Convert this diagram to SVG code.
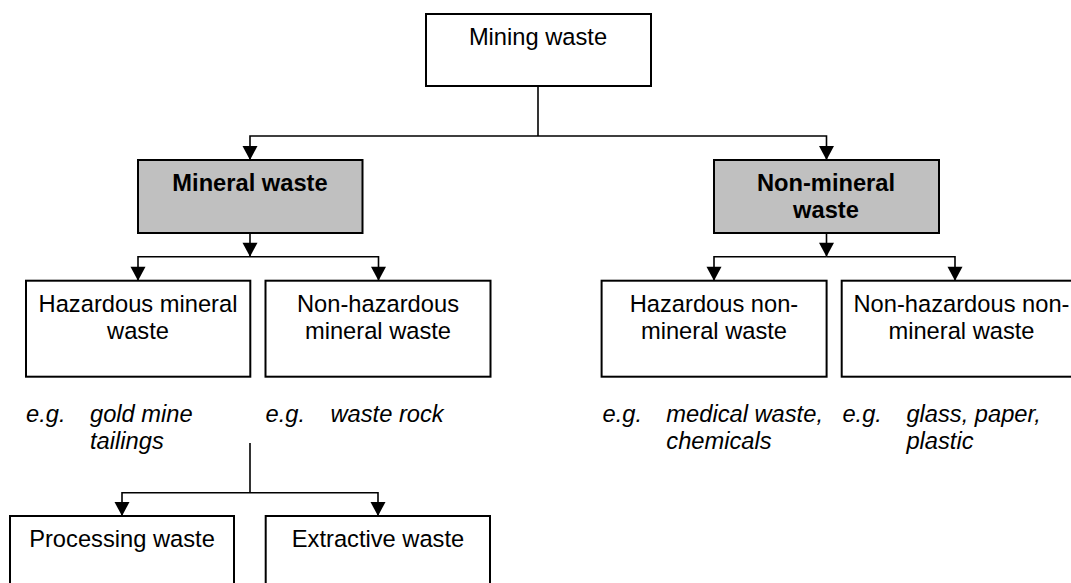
<svg xmlns="http://www.w3.org/2000/svg" width="1071" height="583" viewBox="0 0 1071 583">
<defs>
<marker id="arr" markerUnits="userSpaceOnUse" markerWidth="16" markerHeight="16" viewBox="0 0 16 16" refX="15" refY="8" orient="auto">
<path d="M1,0.5 L15,8 L1,15.5 Z" fill="#000"/>
</marker>
<style>
.box{fill:#fff;stroke:#000;stroke-width:2}
.grey{fill:#c0c0c0;stroke:#000;stroke-width:2}
.t{font-family:"Liberation Sans",Arial,sans-serif;font-size:23.7px;fill:#000;text-anchor:middle}
.b{font-weight:bold}
.eg{font-family:"Liberation Sans",Arial,sans-serif;font-size:23.7px;font-style:italic;fill:#000}
.c{fill:none;stroke:#000;stroke-width:1.6}
.a{fill:none;stroke:#000;stroke-width:1.6;marker-end:url(#arr)}
</style>
</defs>
<rect width="1071" height="583" fill="#fff"/>
<g id="connectors">
<path class="c" d="M538,86 V136"/>
<path class="a" d="M538,136 H250 V160"/>
<path class="a" d="M538,136 H826.5 V160"/>
<path class="a" d="M250,233 V256.7"/>
<path class="a" d="M250,256.7 H138 V280.7"/>
<path class="a" d="M250,256.7 H378.5 V280.7"/>
<path class="a" d="M826.5,233 V256.7"/>
<path class="a" d="M826.5,256.7 H714 V280.7"/>
<path class="a" d="M826.5,256.7 H955 V280.7"/>
<path class="c" d="M250,443 V492.7"/>
<path class="a" d="M250,492.7 H122 V516"/>
<path class="a" d="M250,492.7 H378 V516"/>
</g>
<g id="mining-waste">
<rect class="box" x="426" y="14" width="225" height="72"/>
<text class="t" x="538" y="45">Mining waste</text>
</g>
<g id="mineral-waste">
<rect class="grey" x="138" y="160" width="224.5" height="73"/>
<text class="t b" x="250" y="190.7">Mineral waste</text>
</g>
<g id="non-mineral-waste">
<rect class="grey" x="714" y="160" width="225" height="73"/>
<text class="t b" x="826" y="190.7">Non-mineral</text>
<text class="t b" x="826" y="218.3">waste</text>
</g>
<g id="hazardous-mineral-waste">
<rect class="box" x="26" y="280.7" width="224.3" height="96"/>
<text class="t" x="138" y="311.7">Hazardous mineral</text>
<text class="t" x="138" y="338.5">waste</text>
</g>
<g id="non-hazardous-mineral-waste">
<rect class="box" x="265.5" y="280.7" width="225" height="96"/>
<text class="t" x="378" y="311.7">Non-hazardous</text>
<text class="t" x="378" y="338.5">mineral waste</text>
</g>
<g id="hazardous-non-mineral-waste">
<rect class="box" x="601.6" y="280.7" width="225" height="96"/>
<text class="t" x="714" y="311.7">Hazardous non-</text>
<text class="t" x="714" y="338.5">mineral waste</text>
</g>
<g id="non-hazardous-non-mineral-waste">
<rect class="box" x="841.7" y="280.7" width="240" height="96"/>
<text class="t" x="961.5" y="311.7">Non-hazardous non-</text>
<text class="t" x="961.5" y="338.5">mineral waste</text>
</g>
<g id="examples">
<text class="eg" x="26" y="421.7">e.g.</text>
<text class="eg" x="90" y="421.7">gold mine</text>
<text class="eg" x="90" y="449">tailings</text>
<text class="eg" x="265.5" y="421.7">e.g.</text>
<text class="eg" x="330.5" y="421.7">waste rock</text>
<text class="eg" x="602.5" y="421.7">e.g.</text>
<text class="eg" x="666.3" y="421.7">medical waste,</text>
<text class="eg" x="666.3" y="449">chemicals</text>
<text class="eg" x="842.4" y="421.7">e.g.</text>
<text class="eg" x="906.4" y="421.7">glass, paper,</text>
<text class="eg" x="906.4" y="449">plastic</text>
</g>
<g id="processing-waste">
<rect class="box" x="10" y="516" width="224" height="80"/>
<text class="t" x="122" y="546.7">Processing waste</text>
</g>
<g id="extractive-waste">
<rect class="box" x="265.7" y="516" width="224.3" height="80"/>
<text class="t" x="378" y="546.7">Extractive waste</text>
</g>
</svg>
